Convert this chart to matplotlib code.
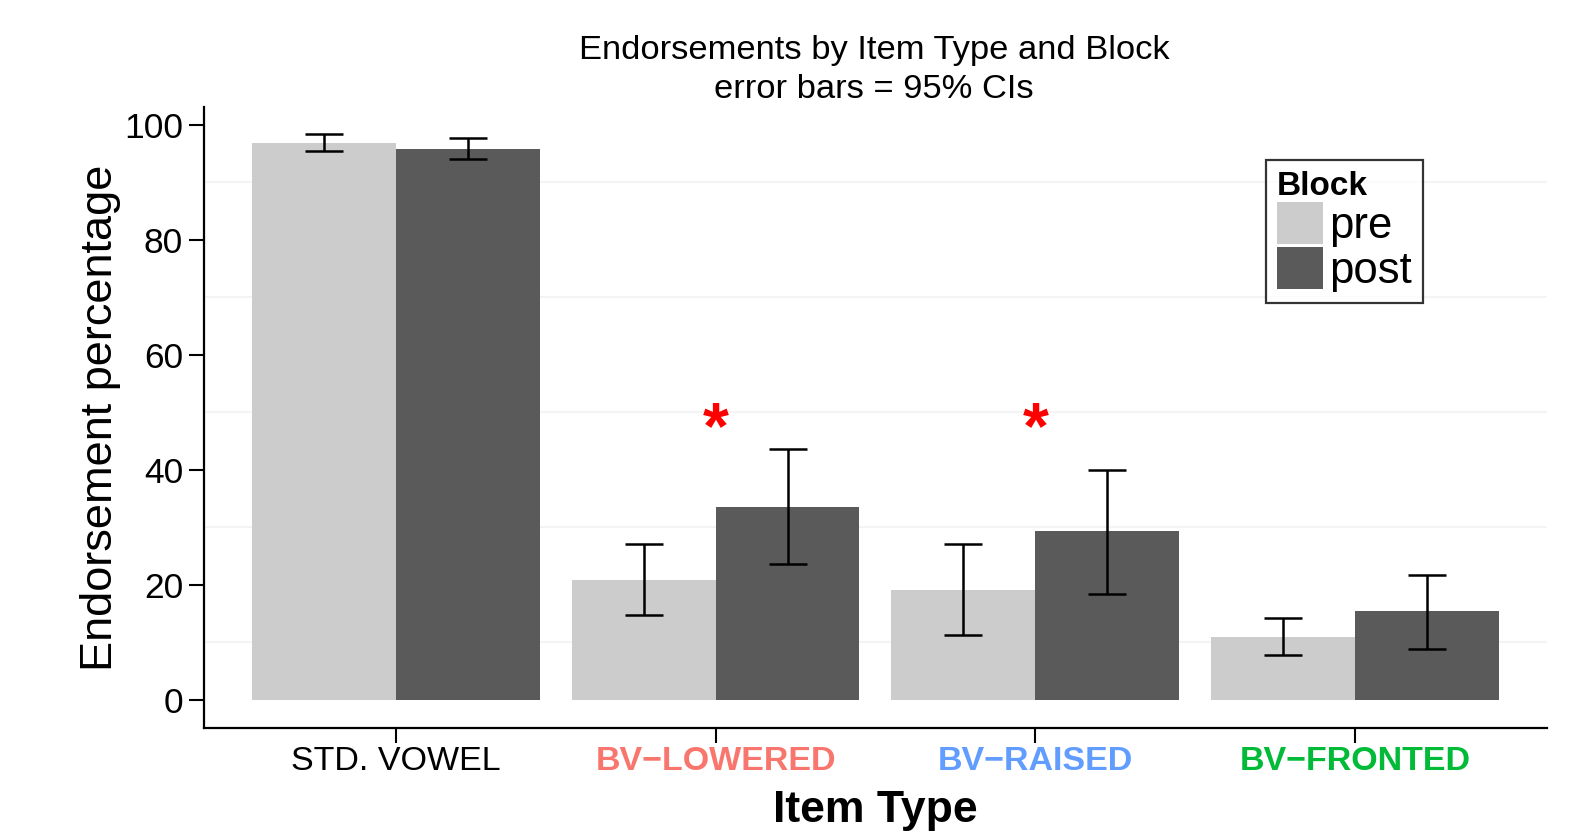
import numpy as np
import matplotlib
matplotlib.use('Agg')
import matplotlib.pyplot as plt
from matplotlib.patches import Patch

plt.rcParams['font.family'] = ['Liberation Sans', 'DejaVu Sans']

# data
item_types = ['STD. VOWEL', 'BV\u2212LOWERED', 'BV\u2212RAISED', 'BV\u2212FRONTED']
label_colors = ['black', '#F8766D', '#619CFF', '#00BA38']
label_weights = ['normal', 'bold', 'bold', 'bold']
blocks = ['pre', 'post']
block_colors = ['#CCCCCC', '#5A5A5A']

pre_mean = [96.8, 20.9, 19.1, 11.0]
pre_lo = [95.4, 14.7, 11.3, 7.8]
pre_hi = [98.4, 27.1, 27.1, 14.3]

post_mean = [95.8, 33.6, 29.4, 15.4]
post_lo = [94.0, 23.7, 18.4, 8.8]
post_hi = [97.7, 43.7, 40.0, 21.8]

signif = [False, True, True, False]
star_y = 48.0

fig = plt.figure(figsize=(15.96, 8.31), dpi=100)
ax = fig.add_axes([0.1278, 0.1239, 0.9693 - 0.1278, 0.8712 - 0.1239])

x = np.arange(1, len(item_types) + 1)
w = 0.45

means = [pre_mean, post_mean]
los = [pre_lo, post_lo]
his = [pre_hi, post_hi]
offsets = [-w / 2, w / 2]

for i in range(2):
    m = np.array(means[i])
    lo = np.array(los[i])
    hi = np.array(his[i])
    ax.bar(x + offsets[i], m, width=w, color=block_colors[i], zorder=2)
    ax.errorbar(x + offsets[i], m, yerr=[m - lo, hi - m], fmt='none',
                ecolor='black', elinewidth=1.8, capsize=14, capthick=1.8, zorder=3)

for xi, s in zip(x, signif):
    if s:
        ax.text(xi, star_y, '*', color='red', fontsize=48, fontweight='bold',
                ha='center', va='center_baseline', zorder=4)

# faint minor grid
for g in [10, 30, 50, 70, 90]:
    ax.axhline(g, color='#F4F4F4', lw=1.5, zorder=0)

ax.set_xlim(0.4, 4.6)
ax.set_ylim(-4.9, 103.1)
ax.set_yticks([0, 20, 40, 60, 80, 100])
ax.set_xticks(x)
ax.set_xticklabels(item_types)

ax.tick_params(axis='both', length=11, width=1.5, colors='black')
ax.tick_params(axis='y', labelsize=25.5, pad=4)
ax.tick_params(axis='x', labelsize=24.5, pad=2)
for t, c, fw in zip(ax.get_xticklabels(), label_colors, label_weights):
    t.set_color(c)
    t.set_fontweight(fw)

for sp in ['top', 'right']:
    ax.spines[sp].set_visible(False)
for sp in ['left', 'bottom']:
    ax.spines[sp].set_linewidth(1.6)

ax.set_ylabel('Endorsement percentage', fontsize=32.5, labelpad=2)
ax.set_xlabel('Item Type', fontsize=32, fontweight='bold', labelpad=9)

fig.text(0.5478, 1 - 51 / 831, 'Endorsements by Item Type and Block',
         fontsize=24.8, ha='center', va='center')
fig.text(0.5478, 1 - 89 / 831, 'error bars = 95% CIs',
         fontsize=24.8, ha='center', va='center')

handles = [Patch(facecolor=c, edgecolor='none') for c in block_colors]
leg = ax.legend(handles, blocks, title='Block', loc='upper right',
                bbox_to_anchor=(1423 / 1596, 1 - 160 / 831),
                bbox_transform=fig.transFigure,
                fontsize=31.5, title_fontsize=24, frameon=True, fancybox=False,
                handlelength=1.05, handleheight=1.1, handletextpad=0.15,
                labelspacing=0.0, borderpad=0.25, borderaxespad=0,
                alignment='left')
leg.get_title().set_fontweight('bold')
leg.get_frame().set_edgecolor('black')
leg.get_frame().set_linewidth(1.6)

fig.savefig('out.png', dpi=100)
